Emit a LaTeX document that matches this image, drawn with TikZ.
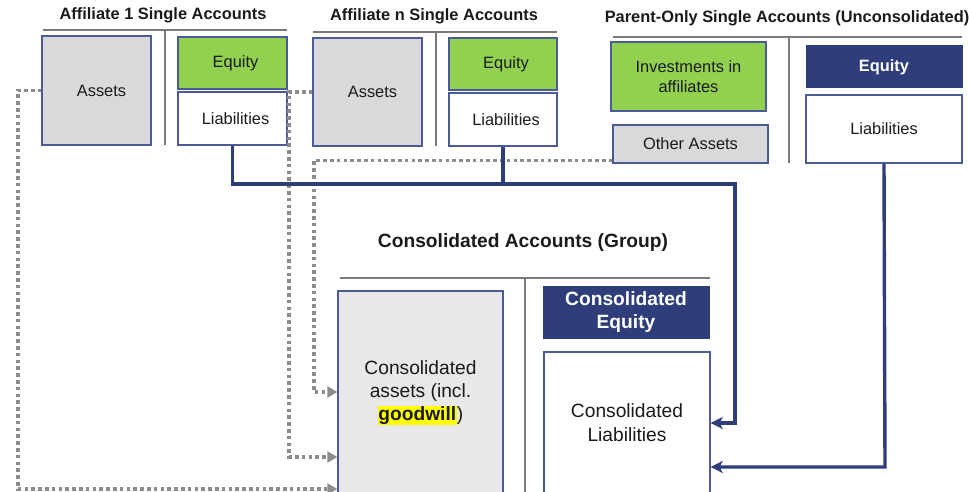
\documentclass[tikz,border=0pt]{standalone}
\usepackage{fontspec}
\setmainfont{Liberation Sans}
\usetikzlibrary{arrows.meta,calc}
\definecolor{navy}{HTML}{2F3D7A}
\definecolor{bordc}{HTML}{4A5A9A}
\definecolor{grn}{HTML}{92D050}
\definecolor{gfill}{HTML}{D9D9D9}
\definecolor{lfill}{HTML}{E8E8E8}
\definecolor{rulec}{HTML}{7A7A7A}
\definecolor{dotc}{HTML}{8C8C8C}
\definecolor{txt}{HTML}{1A1A1A}
\definecolor{hl}{HTML}{FFFF00}
\begin{document}
\begin{tikzpicture}[x=1pt,y=-1pt,
  every node/.style={text=txt,font=\fontsize{16.4}{20}\selectfont,inner sep=0pt,align=center},
  acct/.style={draw=bordc,line width=1.3pt},
  grbox/.style={acct,fill=gfill},
  gnbox/.style={acct,fill=grn},
  whbox/.style={acct,fill=white},
  nvbox/.style={draw=navy,fill=navy,line width=1pt,text=white,font=\fontsize{16.4}{20}\selectfont\bfseries},
  ttl/.style={font=\fontsize{16.4}{20}\selectfont\bfseries},
  bigttl/.style={font=\fontsize{19.2}{23}\selectfont\bfseries},
  divline/.style={draw=rulec,line width=2.6pt},
  bluecon/.style={draw=navy,line width=3.4pt,-{Stealth[length=12pt,width=12pt,inset=3pt]}},
  bluejoin/.style={draw=navy,line width=3.4pt},
  dotcon/.style={draw=dotc,line width=3.6pt,dash pattern=on 3.6pt off 3.2pt,-{Triangle[length=10pt,width=11pt]}}
]
\useasboundingbox (0,0) rectangle (969,492);

% titles
\node[ttl] (t1) at (163,15) {Affiliate 1 Single Accounts};
\node[ttl] (tn) at (434,16) {Affiliate n Single Accounts};
\node[ttl] (tp) at (787,18) {Parent-Only Single Accounts (Unconsolidated)};
\node[bigttl] (tc) at (523,243) {Consolidated Accounts (Group)};

% rules and dividers
\draw[divline] (43,30) -- (287,30);
\draw[divline] (165,30) -- (165,145);
\draw[divline] (313,32) -- (557,32);
\draw[divline] (436,32) -- (436,146);
\draw[divline] (613,37) -- (962,37);
\draw[divline] (789,37) -- (789,163);
\draw[divline] (340,278) -- (710,278);
\draw[divline] (525,278) -- (525,496);

% Affiliate 1
\node[grbox,minimum width=109pt,minimum height=109pt] (assets1) at (96.5,90.5) {\hspace*{10pt}Assets};
\node[gnbox,minimum width=109pt,minimum height=52pt] (equity1) at (232.5,63) {\hspace*{6pt}Equity};
\node[whbox,minimum width=109pt,minimum height=53pt] (liab1) at (232.5,118.5) {\hspace*{6pt}Liabilities};

% Affiliate n
\node[grbox,minimum width=109pt,minimum height=108pt] (assetsn) at (367.5,92) {\hspace*{10pt}Assets};
\node[gnbox,minimum width=108pt,minimum height=52pt] (equityn) at (503,64) {\hspace*{6pt}Equity};
\node[whbox,minimum width=108pt,minimum height=53pt] (liabn) at (503,119.5) {\hspace*{6pt}Liabilities};

% Parent
\node[gnbox,minimum width=155pt,minimum height=69pt] (invest) at (688.5,76.5) {Investments in\\affiliates};
\node[grbox,minimum width=155pt,minimum height=38pt] (other) at (690.5,144) {Other Assets};
\node[nvbox,minimum width=156pt,minimum height=42pt] (pequity) at (884,67) {Equity};
\node[whbox,minimum width=156pt,minimum height=68pt] (pliab) at (884,129) {Liabilities};

% Consolidated
\node[acct,fill=lfill,minimum width=165pt,minimum height=203pt,font=\fontsize{19.2}{23}\selectfont] (cassets) at (420.5,392.5)
  {Consolidated\\assets (incl.\\{\setlength{\fboxsep}{0.6pt}\colorbox{hl}{\bfseries goodwill}})};
\node[nvbox,minimum width=166pt,minimum height=52pt,font=\fontsize{19.2}{23.5}\selectfont\bfseries] (cequity) at (626,312) {Consolidated\\Equity};
\node[whbox,minimum width=166pt,minimum height=142pt,font=\fontsize{19.2}{24}\selectfont] (cliab) at (627,423) {Consolidated\\Liabilities};

% dotted connectors
\coordinate (d1) at (18,489);
\coordinate (d2) at (289,457);
\coordinate (d3) at (314,392);
\draw[dotcon] (assets1.west) -| (d1) -- (d1 -| cassets.west);
\draw[dotcon] (assetsn.west) -| (d2) -- (d2 -| cassets.west);
\draw[dotcon] ($(other.south west)+(0,-3)$) -| (d3) -- (d3 -| cassets.west);

% blue connectors
\coordinate (b1) at (735,184);
\coordinate (b2) at (885,467);
\draw[bluecon] (liab1.south) |- (b1) |- (cliab.east);
\draw[bluejoin] (liabn.south) -- (liabn.south |- b1);
\draw[bluecon] (pliab.south) -- (b2) -- (b2 -| cliab.east);
\end{tikzpicture}
\end{document}
